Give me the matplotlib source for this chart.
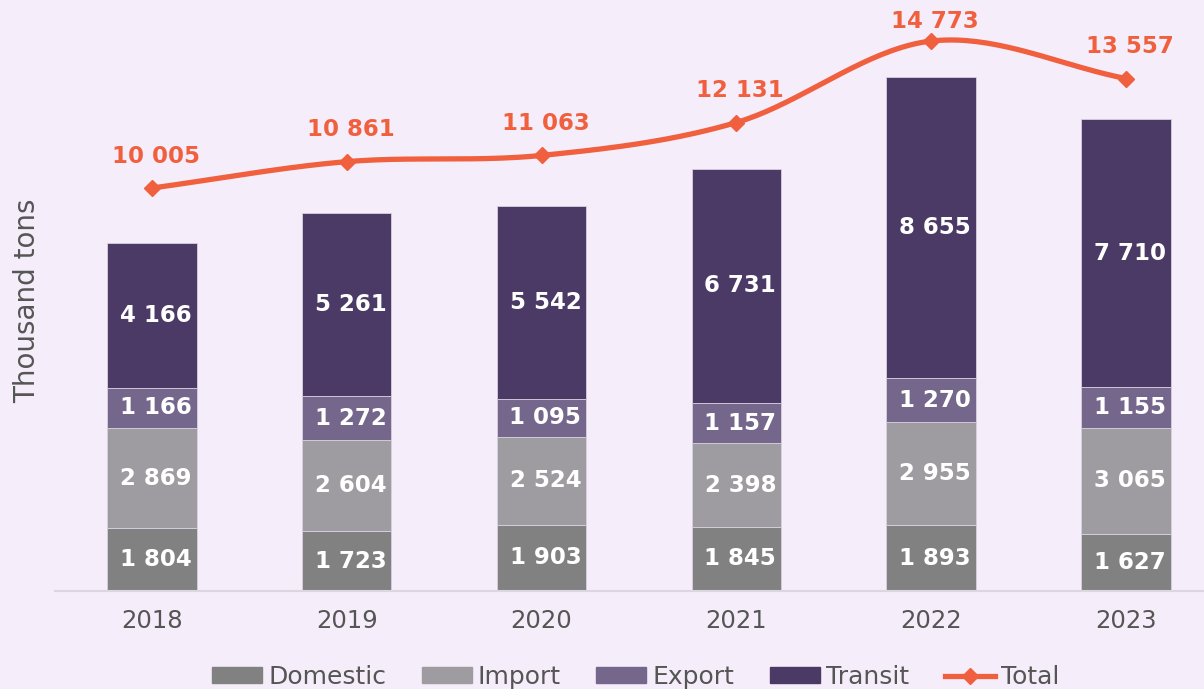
import numpy as np
import matplotlib.pyplot as plt
from matplotlib.lines import Line2D
from matplotlib.patches import Patch

years = ["2018", "2019", "2020", "2021", "2022", "2023"]
domestic = [1804, 1723, 1903, 1845, 1893, 1627]
imports = [2869, 2604, 2524, 2398, 2955, 3065]
exports = [1166, 1272, 1095, 1157, 1270, 1155]
transit = [4166, 5261, 5542, 6731, 8655, 7710]
total = [10005, 10861, 11063, 12131, 14773, 13557]

bg = "#f5eefa"
c_dom = "#818181"
c_imp = "#9e9ca1"
c_exp = "#75668c"
c_tra = "#4b3966"
c_tot = "#f0603f"


def fmt(v):
    return f"{v:,}".replace(",", " ")


def catmull(x, y, n=40):
    # smooth curve through the points (for drawing only)
    x = np.asarray(x, float)
    y = np.asarray(y, float)
    px = np.concatenate([[2 * x[0] - x[1]], x, [2 * x[-1] - x[-2]]])
    py = np.concatenate([[2 * y[0] - y[1]], y, [2 * y[-1] - y[-2]]])
    xs, ys = [], []
    t = np.linspace(0, 1, n)
    for i in range(1, len(px) - 2):
        for p, out in ((px, xs), (py, ys)):
            p0, p1, p2, p3 = p[i - 1], p[i], p[i + 1], p[i + 2]
            out.extend(0.5 * ((2 * p1) + (-p0 + p2) * t
                              + (2 * p0 - 5 * p1 + 4 * p2 - p3) * t ** 2
                              + (-p0 + 3 * p1 - 3 * p2 + p3) * t ** 3))
    return np.array(xs), np.array(ys)


fig = plt.figure(figsize=(12.04, 6.89), dpi=100, facecolor=bg)
ax = fig.add_axes([55 / 1204, 1 - 591 / 689, 1 - 55 / 1204, 581 / 689])
ax.set_facecolor(bg)

x = np.arange(len(years))
w = 0.46
bottom = np.zeros(len(years))
for vals, col in ((domestic, c_dom), (imports, c_imp), (exports, c_exp), (transit, c_tra)):
    ax.bar(x, vals, w, bottom=bottom, color=col, edgecolor="#d8d0e0", linewidth=0.6)
    for xi, b, v in zip(x, bottom, vals):
        ax.text(xi + 0.02, b + v / 2, fmt(v), ha="center", va="center",
                color="white", fontsize=16.5, fontweight="bold")
    bottom += np.array(vals)

ax.set_xlim(-0.497, 5.4)
ax.set_ylim(0, 16686)
ax.set_yticks([])
ax.set_xticks(x)
ax.set_xticklabels(years, fontsize=17.5, color="#555555")
ax.tick_params(axis="x", length=0, pad=13)
for s in ("top", "right", "left"):
    ax.spines[s].set_visible(False)
ax.spines["bottom"].set_color("#dcd6e0")
ax.spines["bottom"].set_linewidth(1.5)
ax.set_ylabel("Thousand tons", fontsize=20, color="#555555", labelpad=10)

ax2 = ax.twinx()
ax2.set_ylim(-3065, 15780)
ax2.axis("off")
sx, sy = catmull(x, total)
ax2.plot(sx, sy, color=c_tot, lw=3.8, solid_capstyle="round")
ax2.plot(x, total, ls="none", marker="D", color=c_tot, markersize=8)
fig.canvas.draw()
for xi, v in zip(x, total):
    py = 689 - ax2.transData.transform((xi, v))[1]
    dy = min(32, py - 21)  # keep the label inside the figure
    ax2.annotate(fmt(v), (xi, v), xytext=(4, dy), textcoords="offset pixels",
                 ha="center", va="center", color=c_tot, fontsize=16.5,
                 fontweight="bold")

handles = [Patch(color=c_dom, label="Domestic"),
           Patch(color=c_imp, label="Import"),
           Patch(color=c_exp, label="Export"),
           Patch(color=c_tra, label="Transit"),
           Line2D([], [], color=c_tot, lw=3.8, marker="D", markersize=8, label="Total")]
fig.legend(handles=handles, loc="lower center", bbox_to_anchor=(0.528, -0.033), ncol=5,
           frameon=False, fontsize=18, handlelength=2.0, handleheight=0.6,
           handletextpad=0.25, columnspacing=1.42, labelcolor="#555555")

fig.savefig("out.png", dpi=100, facecolor=bg)
